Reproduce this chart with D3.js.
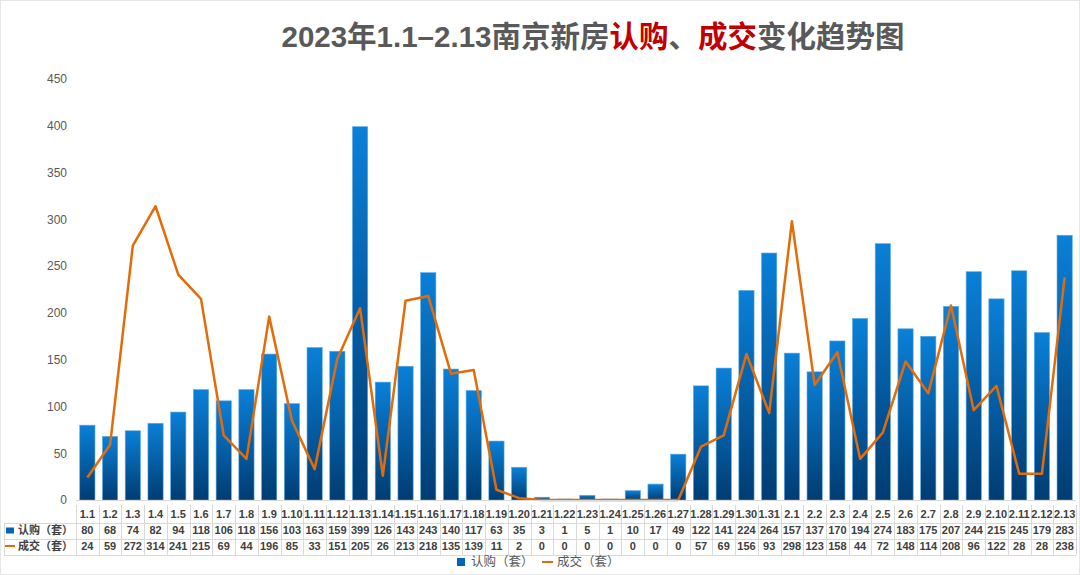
<!DOCTYPE html>
<html>
<head>
<meta charset="utf-8">
<script src="https://cdn.jsdelivr.net/npm/d3@7/dist/d3.min.js"></script>
<style>
    html, body { margin: 0; padding: 0; background: #fff; }
    svg { display: block; font-family: "Liberation Sans", Arial, "Noto Sans CJK SC", sans-serif; }
</style>
</head>
<body>
<div id="chart"></div>
<script>
var categories = ["1.1", "1.2", "1.3", "1.4", "1.5", "1.6", "1.7", "1.8", "1.9", "1.10",
    "1.11", "1.12", "1.13", "1.14", "1.15", "1.16", "1.17", "1.18", "1.19", "1.20",
    "1.21", "1.22", "1.23", "1.24", "1.25", "1.26", "1.27", "1.28", "1.29", "1.30", "1.31",
    "2.1", "2.2", "2.3", "2.4", "2.5", "2.6", "2.7", "2.8", "2.9", "2.10", "2.11", "2.12", "2.13"];
var subscribeValues = [80, 68, 74, 82, 94, 118, 106, 118, 156, 103,
    163, 159, 399, 126, 143, 243, 140, 117, 63, 35,
    3, 1, 5, 1, 10, 17, 49, 122, 141, 224, 264,
    157, 137, 170, 194, 274, 183, 175, 207, 244, 215, 245, 179, 283];
var dealValues = [24, 59, 272, 314, 241, 215, 69, 44, 196, 85,
    33, 151, 205, 26, 213, 218, 135, 139, 11, 2,
    0, 0, 0, 0, 0, 0, 0, 57, 69, 156, 93,
    298, 123, 158, 44, 72, 148, 114, 208, 96, 122, 28, 28, 238];
var yTicks = [0, 50, 100, 150, 200, 250, 300, 350, 400, 450];
var seriesNames = ["认购（套）", "成交（套）"];
var titleParts = [
    { text: "2023年1.1–2.13南京新房", red: false },
    { text: "认购", red: true },
    { text: "、", red: false },
    { text: "成交", red: true },
    { text: "变化趋势图", red: false }
];

(function () {
    'use strict';

    var width = 1080,
        height = 575,
        plot = { left: 76, right: 1076, top: 79, bottom: 500 },
        gridColor = "#d9d9d9",
        textColor = "#595959",
        lineColor = "#e36c0a",
        rowY = [514, 530.5, 546],
        rowLines = [523, 539, 555];

    var svg = d3.select("#chart").append("svg")
        .attr("width", width)
        .attr("height", height);

    // bar gradient, light blue on top to navy at the base
    var grad = svg.append("defs").append("linearGradient")
        .attr("id", "barGrad")
        .attr("x1", 0).attr("y1", 0)
        .attr("x2", 0).attr("y2", 1);
    grad.append("stop").attr("offset", "0%").attr("stop-color", "#0a80d8");
    grad.append("stop").attr("offset", "100%").attr("stop-color", "#003c72");

    svg.append("rect")
        .attr("x", 0.5).attr("y", 0.5)
        .attr("width", width - 1).attr("height", height - 1)
        .attr("fill", "none")
        .attr("stroke", "#e6e6e6");

    var x = d3.scaleBand()
        .domain(categories)
        .range([plot.left, plot.right])
        .paddingInner(0.33)
        .paddingOuter(0.165);

    var xCol = d3.scaleBand()
        .domain(categories)
        .range([plot.left, plot.right]);

    var y = d3.scaleLinear()
        .domain([0, 450])
        .range([plot.bottom, plot.top]);

    // title
    var title = svg.append("text")
        .attr("x", 593)
        .attr("y", 47)
        .attr("text-anchor", "middle")
        .attr("font-size", 29.5)
        .attr("font-weight", "bold");
    title.selectAll("tspan")
        .data(titleParts)
        .enter()
        .append("tspan")
        .attr("fill", function (d) { return d.red ? "#c00000" : textColor; })
        .text(function (d) { return d.text; });

    // y axis labels
    var yAxis = svg.append("g")
        .attr("transform", "translate(67,0)")
        .call(d3.axisLeft(y).tickValues(yTicks).tickSize(0).tickPadding(0));
    yAxis.select(".domain").remove();
    yAxis.selectAll("text")
        .attr("fill", textColor)
        .attr("font-size", 12)
        .attr("font-family", "\"Liberation Sans\", Arial, sans-serif");

    // bars
    svg.append("g")
        .selectAll("rect")
        .data(subscribeValues)
        .enter()
        .append("rect")
        .attr("x", function (d, i) { return x(categories[i]); })
        .attr("y", function (d) { return y(d); })
        .attr("width", x.bandwidth())
        .attr("height", function (d) { return plot.bottom - y(d); })
        .attr("fill", "url(#barGrad)")
        .attr("stroke", "#5aaae6")
        .attr("stroke-width", 0.6);

    // deal line
    var line = d3.line()
        .x(function (d, i) { return xCol(categories[i]) + xCol.bandwidth() / 2; })
        .y(function (d) { return y(d); });

    svg.append("path")
        .datum(dealValues)
        .attr("d", line)
        .attr("fill", "none")
        .attr("stroke", lineColor)
        .attr("stroke-width", 2.5)
        .attr("stroke-linejoin", "round");

    // category axis line
    svg.append("line")
        .attr("x1", plot.left).attr("x2", plot.right)
        .attr("y1", plot.bottom + 0.5).attr("y2", plot.bottom + 0.5)
        .attr("stroke", gridColor);

    // data table grid
    var table = svg.append("g");
    table.selectAll(".vline")
        .data(categories.concat(["end"]))
        .enter()
        .append("line")
        .attr("x1", function (d, i) { return Math.round(plot.left + i * xCol.step()) + 0.5; })
        .attr("x2", function (d, i) { return Math.round(plot.left + i * xCol.step()) + 0.5; })
        .attr("y1", 505)
        .attr("y2", rowLines[2])
        .attr("stroke", gridColor);
    table.selectAll(".hline")
        .data(rowLines)
        .enter()
        .append("line")
        .attr("x1", 4)
        .attr("x2", plot.right)
        .attr("y1", function (d) { return d + 0.5; })
        .attr("y2", function (d) { return d + 0.5; })
        .attr("stroke", gridColor);
    table.append("line")
        .attr("x1", 4.5).attr("x2", 4.5)
        .attr("y1", rowLines[0]).attr("y2", rowLines[2])
        .attr("stroke", gridColor);

    var rows = [categories, subscribeValues, dealValues];
    rows.forEach(function (row, r) {
        table.append("g")
            .selectAll("text")
            .data(row)
            .enter()
            .append("text")
            .attr("x", function (d, i) { return xCol(categories[i]) + xCol.bandwidth() / 2; })
            .attr("y", rowY[r])
            .attr("dy", "0.35em")
            .attr("text-anchor", "middle")
            .attr("font-size", 11)
            .attr("font-weight", "bold")
            .attr("fill", "#404040")
            .text(function (d) { return d; });
    });

    // row labels with series keys
    table.append("rect")
        .attr("x", 6).attr("y", rowY[1] - 3)
        .attr("width", 8).attr("height", 6)
        .attr("fill", "#0066b8");
    table.append("line")
        .attr("x1", 5).attr("x2", 15)
        .attr("y1", rowY[2]).attr("y2", rowY[2])
        .attr("stroke", lineColor)
        .attr("stroke-width", 2);
    table.selectAll(".rowlabel")
        .data(seriesNames)
        .enter()
        .append("text")
        .attr("x", 18)
        .attr("y", function (d, i) { return rowY[i + 1]; })
        .attr("dy", "0.35em")
        .attr("font-size", 11)
        .attr("font-weight", "bold")
        .attr("fill", "#404040")
        .attr("font-family", "\"Noto Sans CJK SC\", sans-serif")
        .text(function (d) { return d; });

    // legend
    var legend = svg.append("g")
        .attr("transform", "translate(457,562)");
    legend.append("rect")
        .attr("x", 0).attr("y", -4)
        .attr("width", 8).attr("height", 8)
        .attr("fill", "#0066b8");
    legend.append("text")
        .attr("x", 14).attr("dy", "0.35em")
        .attr("font-size", 12.5)
        .attr("fill", textColor)
        .attr("font-family", "\"Noto Sans CJK SC\", sans-serif")
        .text(seriesNames[0]);
    legend.append("line")
        .attr("x1", 85).attr("x2", 96)
        .attr("y1", 0).attr("y2", 0)
        .attr("stroke", lineColor)
        .attr("stroke-width", 2);
    legend.append("text")
        .attr("x", 100).attr("dy", "0.35em")
        .attr("font-size", 12.5)
        .attr("fill", textColor)
        .attr("font-family", "\"Noto Sans CJK SC\", sans-serif")
        .text(seriesNames[1]);
})();
</script>
</body>
</html>
